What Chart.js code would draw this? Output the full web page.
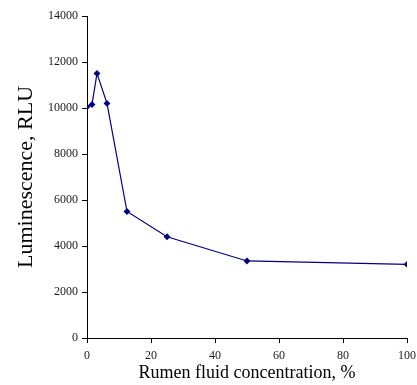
<!DOCTYPE html>
<html>
<head>
<meta charset="utf-8">
<script src="https://cdn.jsdelivr.net/npm/chart.js@4"></script>
<style>
  html, body { margin: 0; padding: 0; background: #fff; }
  #wrap { width: 417px; height: 385px; }
</style>
</head>
<body>
<div id="wrap"><canvas id="chart" width="417" height="385"></canvas></div>
<script>
// Rumen fluid concentration (%) and luminescence (RLU)
const concentration = [0, 1.56, 3.125, 6.25, 12.5, 25, 50, 100];
const luminescence = [10050, 10150, 11500, 10200, 5500, 4400, 3350, 3200];

const xTicks = [0, 20, 40, 60, 80, 100];
const yTicks = [0, 2000, 4000, 6000, 8000, 10000, 12000, 14000];

const lineColor = '#000080';
const serif = "'Liberation Serif', 'Times New Roman', serif";

const points = concentration.map((x, i) => ({ x: x, y: luminescence[i] }));

new Chart(document.getElementById('chart').getContext('2d'), {
    type: 'scatter',
    data: {
        datasets: [{
            data: points,
            showLine: true,
            borderColor: lineColor,
            backgroundColor: lineColor,
            borderWidth: 1.2,
            pointStyle: 'rectRot',
            pointRadius: 2.6,
            tension: 0
        }]
    },
    options: {
        responsive: false,
        animation: false,
        layout: { padding: { top: 16, right: 0, left: 0, bottom: 0 } },
        plugins: {
            legend: { display: false },
            tooltip: { enabled: false }
        },
        scales: {
            x: {
                type: 'linear',
                min: 0,
                max: 100,
                afterFit: s => { s.height = 47; s.paddingRight = 10; },
                afterBuildTicks: s => { s.ticks = xTicks.map(v => ({ value: v })); },
                grid: { drawOnChartArea: false, tickLength: 5, color: '#000' },
                border: { color: '#000', width: 1 },
                ticks: { color: '#1a1a1a', padding: 6, maxRotation: 0, font: { family: serif, size: 12 },
                         callback: v => String(v) },
                title: {
                    display: true,
                    text: 'Rumen fluid concentration, %',
                    color: '#000',
                    padding: { top: 0, bottom: 1 },
                    font: { family: serif, size: 18 }
                }
            },
            y: {
                type: 'linear',
                min: 0,
                max: 14000,
                afterFit: s => { s.width = 87; },
                afterBuildTicks: s => { s.ticks = yTicks.map(v => ({ value: v })); },
                grid: { drawOnChartArea: false, tickLength: 5, color: '#000' },
                border: { color: '#000', width: 1 },
                ticks: { color: '#1a1a1a', padding: 4, font: { family: serif, size: 12 },
                         callback: v => String(v) },
                title: {
                    display: true,
                    text: 'Luminescence, RLU',
                    color: '#000',
                    padding: { top: 13, bottom: 0 },
                    font: { family: serif, size: 22 }
                }
            }
        }
    }
});
</script>
</body>
</html>
